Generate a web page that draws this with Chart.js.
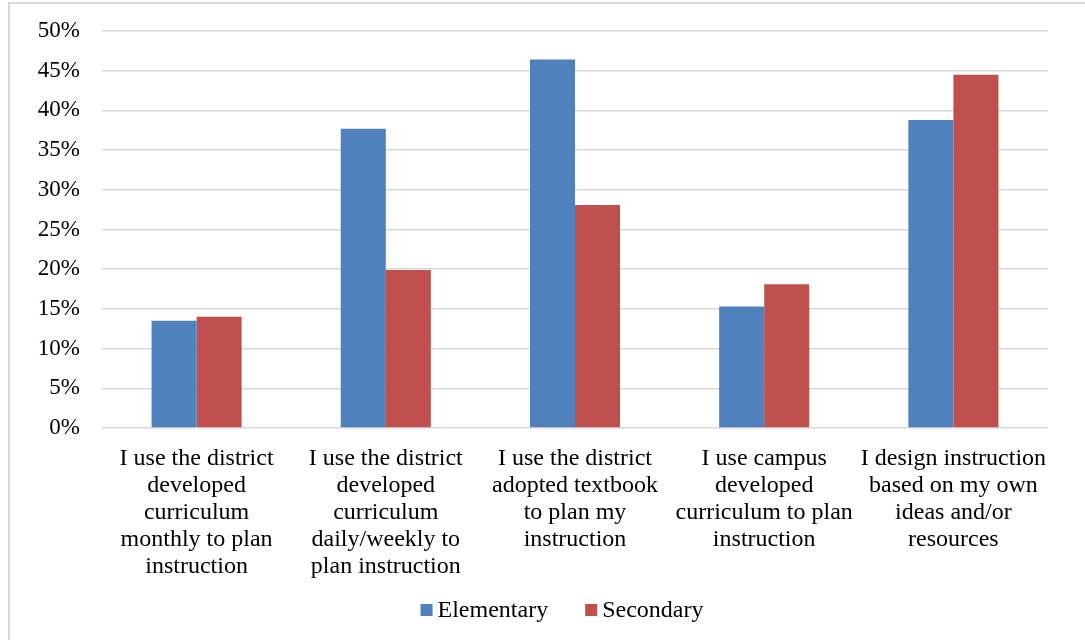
<!DOCTYPE html>
<html>
<head>
<meta charset="utf-8">
<script src="https://cdn.jsdelivr.net/npm/chart.js@4/dist/chart.umd.min.js"></script>
<style>
  html, body { margin: 0; padding: 0; background: #fff; }
  #wrap { position: relative; width: 1085px; height: 640px; overflow: hidden; }
  #frame {
    position: absolute; left: 8px; top: 2px; right: -4px; bottom: -4px;
    border-left: 2px solid #d9d9d9; border-top: 2px solid #d9d9d9;
  }
  canvas { position: absolute; left: 0; top: 0; }
</style>
</head>
<body>
<div id="wrap">
  <div id="frame"></div>
  <canvas id="chart" width="1085" height="640"></canvas>
</div>
<script>
const categories = [
  ["I use the district", "developed", "curriculum", "monthly to plan", "instruction"],
  ["I use the district", "developed", "curriculum", "daily/weekly to", "plan instruction"],
  ["I use the district", "adopted textbook", "to plan my", "instruction"],
  ["I use campus", "developed", "curriculum to plan", "instruction"],
  ["I design instruction", "based on my own", "ideas and/or", "resources"]
];
const elementary = [13.5, 37.7, 46.4, 15.3, 38.8];
const secondary = [14.0, 19.9, 28.1, 18.1, 44.5];
const yTicks = [0, 5, 10, 15, 20, 25, 30, 35, 40, 45, 50];

const serif = "'Liberation Serif', 'Times New Roman', serif";

// legend drawn under the axis labels: small square, short gap, then the name
const bottomLegend = {
  id: "bottomLegend",
  afterDraw(chart) {
    const ctx = chart.ctx;
    const box = 12, gap = 5, spacing = 37;
    const y = 610;
    ctx.save();
    ctx.font = "24px " + serif;
    ctx.textBaseline = "middle";
    ctx.textAlign = "left";
    const items = chart.data.datasets.map((ds) => ({
      label: ds.label,
      color: ds.backgroundColor,
      w: ctx.measureText(ds.label).width
    }));
    let total = 0;
    items.forEach((it, i) => { total += box + gap + it.w + (i ? spacing : 0); });
    let x = 562 - total / 2;
    items.forEach((it) => {
      ctx.fillStyle = it.color;
      ctx.fillRect(x, y - box / 2, box, box);
      ctx.fillStyle = "#000";
      ctx.fillText(it.label, x + box + gap, y + 1);
      x += box + gap + it.w + spacing;
    });
    ctx.restore();
  }
};

new Chart(document.getElementById("chart").getContext("2d"), {
  type: "bar",
  data: {
    labels: categories,
    datasets: [
      { label: "Elementary", data: elementary, backgroundColor: "#4f81bd", borderWidth: 0 },
      { label: "Secondary", data: secondary, backgroundColor: "#c0504d", borderWidth: 0 }
    ]
  },
  plugins: [bottomLegend],
  options: {
    responsive: false,
    animation: false,
    layout: { padding: { left: 10, right: 37, top: 31, bottom: 7 } },
    datasets: {
      bar: { categoryPercentage: 0.476, barPercentage: 1.0 }
    },
    scales: {
      x: {
        grid: { display: false },
        border: { display: false },
        ticks: {
          color: "#000",
          font: { family: serif, size: 24, lineHeight: 1.125 },
          padding: 9,
          maxRotation: 0,
          autoSkip: false
        },
        afterFit: (scale) => { scale.height = 205; }
      },
      y: {
        min: 0,
        max: 50,
        afterBuildTicks: (scale) => { scale.ticks = yTicks.map((v) => ({ value: v })); },
        grid: { color: "#d9d9d9", lineWidth: 1.5, drawTicks: false },
        border: { display: false },
        ticks: {
          color: "#000",
          font: { family: serif, size: 23 },
          padding: 22,
          callback: (v) => v + "%"
        },
        afterFit: (scale) => {
          scale.width = 92;
          scale.paddingTop = 0;
          scale.paddingBottom = 0;
        }
      }
    },
    plugins: {
      legend: { display: false },
      tooltip: { enabled: false }
    }
  }
});
</script>
</body>
</html>
